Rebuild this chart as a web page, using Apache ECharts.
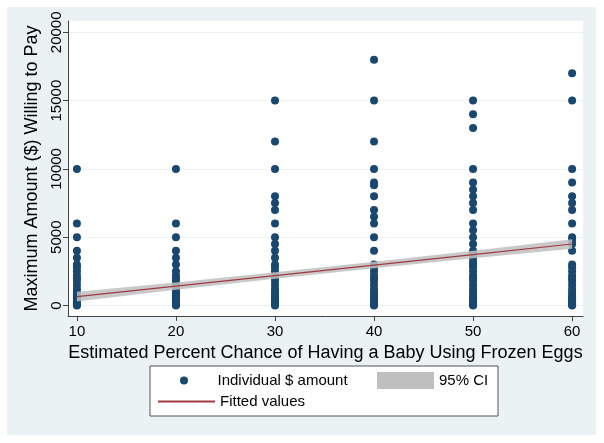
<!DOCTYPE html>
<html>
<head>
<meta charset="utf-8">
<script src="https://cdn.jsdelivr.net/npm/echarts@6/dist/echarts.min.js"></script>
<style>html,body{margin:0;padding:0;background:#fff}#c{width:604px;height:443px}</style>
</head>
<body>
<div id="c"></div>
<script>
// Estimated percent chance categories (x positions)
const xTicks = [10, 20, 30, 40, 50, 60];
const yTicks = [0, 5000, 10000, 15000, 20000];
// Individual $ amounts per x value
const amounts10 = [10000, 6000, 5000, 4000, 3500, 3000, 2800, 2500, 2200, 2000, 1800, 1500, 1200, 1000, 800, 700, 600, 500, 400, 300, 250, 200, 150, 100, 50, 0];
const amounts20 = [10000, 6000, 5000, 4000, 3500, 3000, 2500, 2200, 2000, 1800, 1500, 1200, 1000, 900, 800, 700, 600, 500, 400, 300, 250, 200, 150, 100, 50, 0];
const amounts30 = [15000, 12000, 10000, 8000, 7500, 7000, 6000, 5000, 4500, 4000, 3500, 3000, 2800, 2500, 2200, 2000, 1800, 1500, 1200, 1000, 800, 700, 600, 500, 400, 300, 200, 150, 100, 50, 0];
const amounts40 = [18000, 15000, 12000, 10000, 9000, 8800, 8000, 7000, 6500, 6000, 5000, 4000, 3000, 2800, 2500, 2200, 2000, 1800, 1500, 1200, 1000, 800, 700, 600, 500, 400, 300, 200, 150, 100, 50, 0];
const amounts50 = [15000, 14000, 13000, 10000, 9000, 8500, 8000, 7500, 7000, 6000, 5500, 5000, 4500, 4000, 3800, 3500, 3200, 3000, 2800, 2500, 2200, 2000, 1800, 1500, 1200, 1000, 800, 600, 500, 400, 300, 200, 100, 50, 0];
const amounts60 = [17000, 15000, 10000, 9000, 8000, 7500, 7000, 6000, 5000, 4800, 4500, 4000, 3000, 2800, 2500, 2200, 2000, 1800, 1500, 1200, 1000, 800, 600, 500, 400, 300, 200, 100, 50, 0];
// Fitted values and 95% CI
const fitX = [10, 20, 30, 40, 50, 60];
const fitY = [650, 1420, 2190, 2960, 3730, 4500];
const ciLow = [300, 1150, 1950, 2720, 3450, 4150];
const ciHigh = [1000, 1690, 2430, 3200, 4010, 4850];

const groups = [amounts10, amounts20, amounts30, amounts40, amounts50, amounts60];
const scatterData = [];
groups.forEach((g, i) => g.forEach(v => scatterData.push([xTicks[i], v])));
const ciData = fitX.map((x, i) => [x, ciLow[i], ciHigh[i]]);
const fitData = fitX.map((x, i) => [x, fitY[i]]);

const FONT = 'Liberation Sans, Arial, sans-serif';
const RED = '#A03A40';
const chart = echarts.init(document.getElementById('c'), null, {renderer: 'canvas'});
const legendText = {fontFamily: FONT, fontSize: 15, color: '#000'};
chart.setOption({
  backgroundColor: '#ffffff',
  animation: false,
  graphic: [
    {type: 'rect', z: -100, shape: {x: 7, y: 7, width: 589, height: 428}, style: {fill: '#EAF2F3'}, silent: true},
    {type: 'rect', z: -99, shape: {x: 68, y: 21, width: 515, height: 295}, style: {fill: '#ffffff'}, silent: true},
    {type: 'rect', z: -98, shape: {x: 150, y: 366, width: 348, height: 50}, style: {fill: '#ffffff', stroke: '#555', lineWidth: 1}, silent: true}
  ],
  grid: {left: 68, right: 21, top: 21, bottom: 127, containLabel: false},
  xAxis: {
    type: 'value', min: 9.1, max: 61.1,
    name: 'Estimated Percent Chance of Having a Baby Using Frozen Eggs',
    nameLocation: 'middle', nameGap: 27,
    nameTextStyle: {fontFamily: FONT, fontSize: 18, color: '#000'},
    axisLine: {show: true, onZero: false, lineStyle: {color: '#444', width: 1}},
    axisTick: {show: true, length: 5, customValues: xTicks, lineStyle: {color: '#444'}},
    axisLabel: {customValues: xTicks, fontFamily: FONT, fontSize: 15, color: '#000', margin: 8, formatter: v => String(v)},
    splitLine: {show: false}
  },
  yAxis: {
    type: 'value', min: -770, max: 20830,
    name: 'Maximum Amount ($) Willing to Pay',
    nameLocation: 'middle', nameGap: 25, nameRotate: 90,
    nameTextStyle: {fontFamily: FONT, fontSize: 18, color: '#000'},
    axisLine: {show: true, onZero: false, lineStyle: {color: '#444', width: 1}},
    axisTick: {show: true, length: 5, customValues: yTicks, lineStyle: {color: '#444'}},
    axisLabel: {customValues: yTicks, rotate: 90, fontFamily: FONT, fontSize: 15, color: '#000', margin: 4, formatter: v => String(v)},
    splitLine: {show: true, lineStyle: {color: '#EAF2F3', width: 1}}
  },
  legend: [
    {data: [{name: 'Individual $ amount', icon: 'circle'}], left: 180, top: 373, orient: 'horizontal', itemWidth: 57, itemHeight: 8, textStyle: legendText, selectedMode: false, padding: 0},
    {data: [{name: '95% CI', icon: 'rect'}], left: 377, top: 372, orient: 'horizontal', itemWidth: 57, itemHeight: 17, textStyle: legendText, selectedMode: false, padding: 0},
    {data: [{name: 'Fitted values', icon: 'rect'}], left: 158, top: 394, orient: 'horizontal', itemWidth: 57, itemHeight: 2,
     itemStyle: {color: RED, borderWidth: 0}, lineStyle: {color: RED},
     textStyle: legendText, selectedMode: false, padding: 0}
  ],
  series: [
    {
      name: 'Individual $ amount', type: 'scatter', data: scatterData,
      symbol: 'circle', symbolSize: 8, itemStyle: {color: '#1A476F', opacity: 1}, z: 2
    },
    {
      name: '95% CI', type: 'custom', data: ciData, z: 3, silent: true,
      itemStyle: {color: '#BFBFBF'},
      encode: {x: 0, y: [1, 2]},
      renderItem: function (params, api) {
        if (params.dataIndex !== 0) return null;
        const top = [], bottom = [];
        for (let i = 0; i < ciData.length; i++) {
          top.push(api.coord([ciData[i][0], ciData[i][2]]));
          bottom.unshift(api.coord([ciData[i][0], ciData[i][1]]));
        }
        return {
          type: 'polygon',
          shape: {points: top.concat(bottom)},
          style: {fill: '#BFBFBF', opacity: 0.85}
        };
      }
    },
    {
      name: 'Fitted values', type: 'line', data: fitData, symbol: 'none',
      itemStyle: {color: RED},
      lineStyle: {color: RED, width: 1.2}, z: 4
    }
  ]
});
</script>
</body>
</html>
